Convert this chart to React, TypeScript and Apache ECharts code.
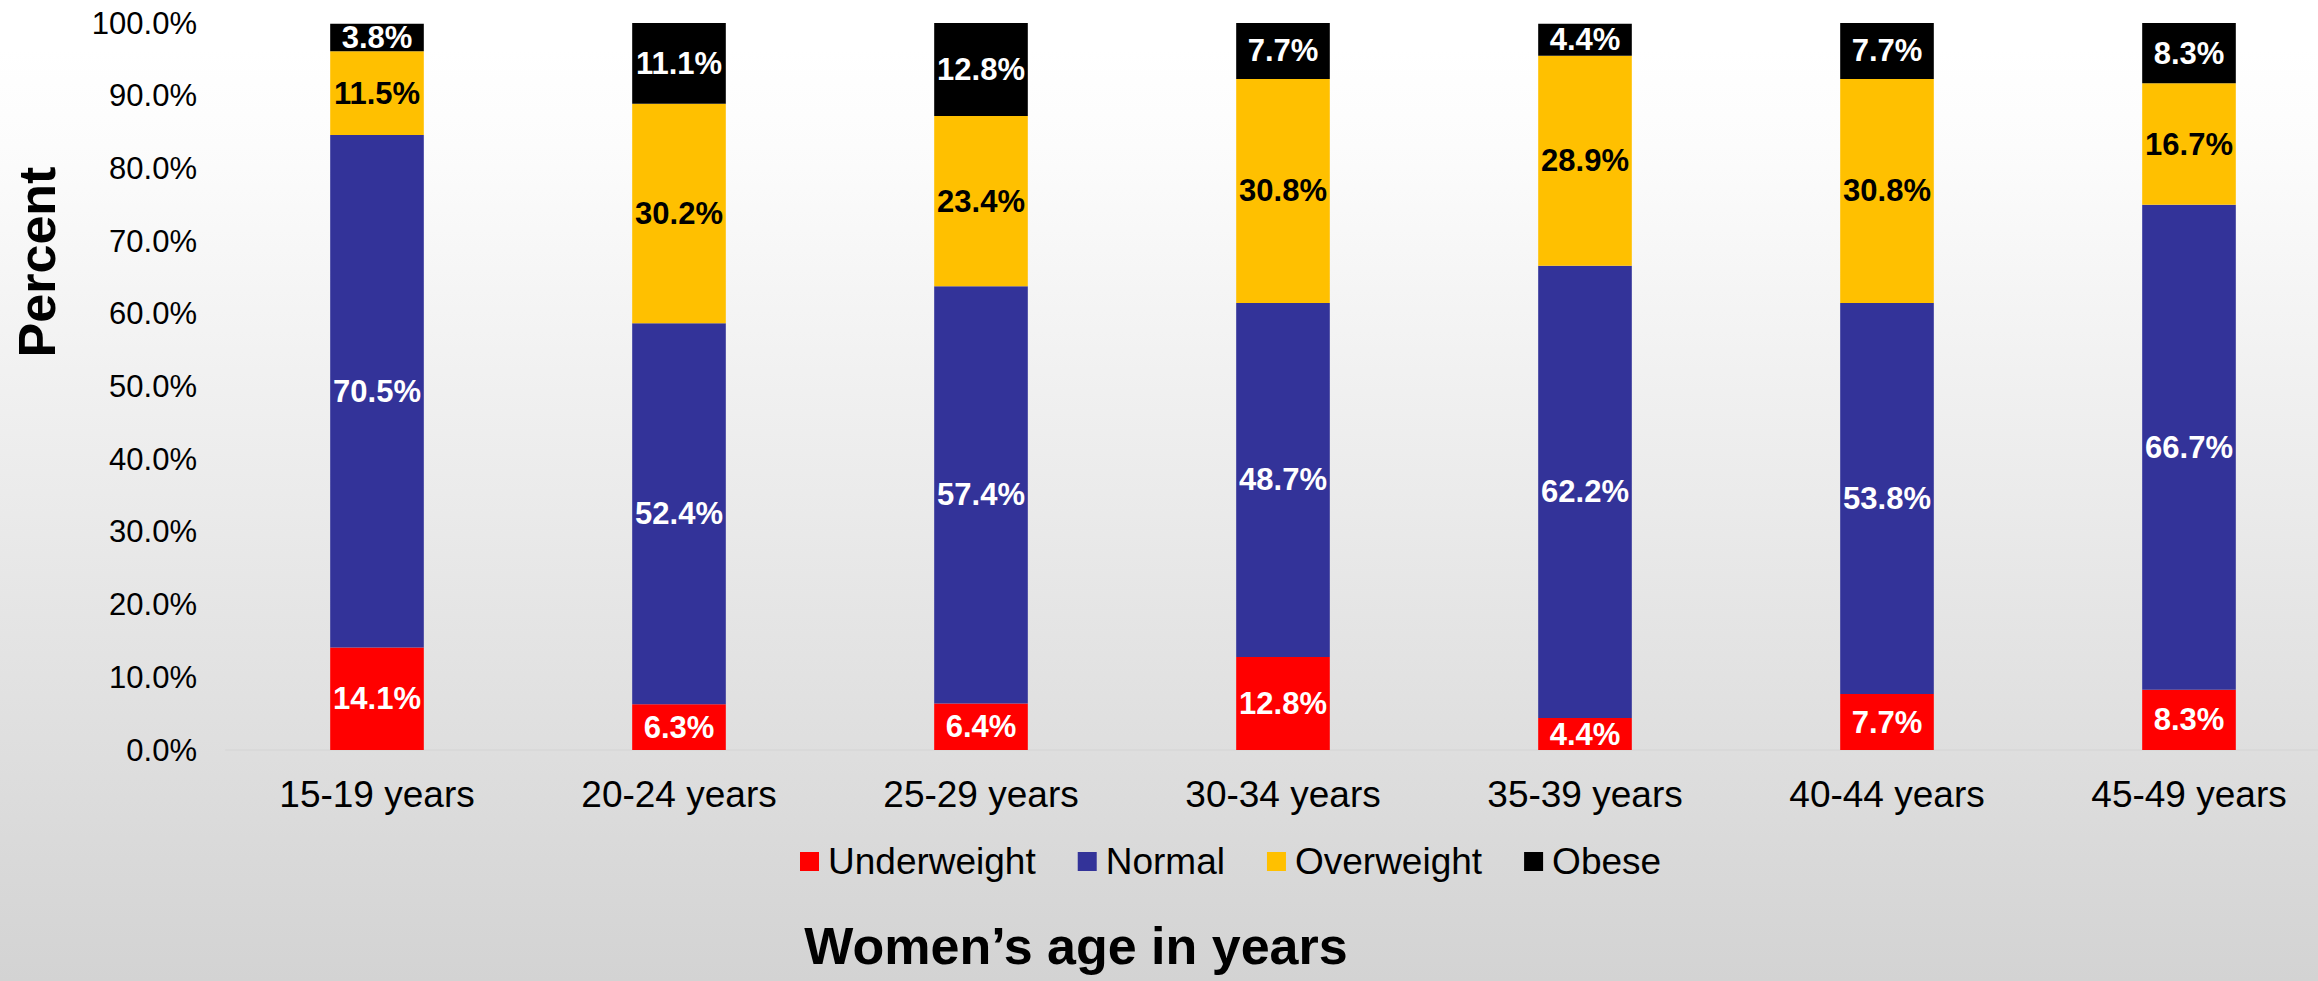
import React, { useEffect, useRef } from "react";
import * as echarts from "echarts";

const categories = ["15-19 years", "20-24 years", "25-29 years", "30-34 years", "35-39 years", "40-44 years", "45-49 years"];
const underweight = [14.1, 6.3, 6.4, 12.8, 4.4, 7.7, 8.3];
const normal = [70.5, 52.4, 57.4, 48.7, 62.2, 53.8, 66.7];
const overweight = [11.5, 30.2, 23.4, 30.8, 28.9, 30.8, 16.7];
const obese = [3.8, 11.1, 12.8, 7.7, 4.4, 7.7, 8.3];
const seriesNames = ["Underweight", "Normal", "Overweight", "Obese"];
const yTicks = [0, 10, 20, 30, 40, 50, 60, 70, 80, 90, 100];

const FONT = "'Liberation Sans', Arial, sans-serif";

export default function App() {
  const ref = useRef<HTMLDivElement>(null);
  useEffect(() => {
    if (!ref.current) return;
    const chart = echarts.init(ref.current, null, { renderer: "svg" });
    const colors = ["#FF0000", "#333399", "#FFC000", "#000000"];
    const labelColors = ["#ffffff", "#ffffff", "#000000", "#ffffff"];
    const data = [underweight, normal, overweight, obese];
    chart.setOption({
      animation: false,
      backgroundColor: "transparent",
      textStyle: { fontFamily: FONT },
      grid: { left: 226, width: 2114, top: 23, bottom: 231, containLabel: false, outerBoundsMode: "none" },
      legend: {
        data: seriesNames,
        left: 795,
        top: 838,
        itemWidth: 19,
        itemHeight: 19,
        itemGap: 42,
        icon: "rect",
        textStyle: { fontSize: 37, color: "#000", fontFamily: FONT, padding: [0, 0, 0, 4] },
      },
      xAxis: {
        type: "category",
        data: categories,
        axisLine: { show: true, lineStyle: { color: "#d9d9d9", width: 2 } },
        axisTick: { show: false },
        axisLabel: { fontSize: 37, color: "#000", margin: 26, fontFamily: FONT },
      },
      yAxis: {
        type: "value",
        min: yTicks[0],
        max: yTicks[yTicks.length - 1],
        interval: 10,
        splitLine: { show: false },
        axisLine: { show: false },
        axisTick: { show: false },
        axisLabel: {
          fontSize: 31,
          color: "#000",
          margin: 29,
          fontFamily: FONT,
          formatter: (v: number) => v.toFixed(1) + "%",
        },
      },
      graphic: [
        {
          type: "text",
          x: 37,
          y: 262,
          rotation: Math.PI / 2,
          style: {
            text: "Percent",
            fontSize: 52,
            fontWeight: "bold",
            fontFamily: FONT,
            fill: "#000",
            textAlign: "center",
            textVerticalAlign: "middle",
          },
        },
        {
          type: "text",
          x: 1076,
          y: 946,
          style: {
            text: "Women’s age in years",
            fontSize: 52,
            fontWeight: "bold",
            fontFamily: FONT,
            fill: "#000",
            textAlign: "center",
            textVerticalAlign: "middle",
          },
        },
      ],
      series: seriesNames.map((name, i) => ({
        name,
        type: "bar",
        stack: "total",
        barWidth: "31%",
        data: data[i],
        itemStyle: { color: colors[i] },
        label: {
          show: true,
          position: "inside",
          color: labelColors[i],
          fontSize: 31,
          fontWeight: "bold",
          fontFamily: FONT,
          formatter: (p: any) => Number(p.value).toFixed(1) + "%",
        },
      })),
    });
    return () => chart.dispose();
  }, []);
  return (
    <div
      style={{
        position: "fixed",
        left: 0,
        top: 0,
        width: 2318,
        height: 981,
        overflow: "hidden",
        background: "linear-gradient(to bottom, #ffffff 0%, #ffffff 5%, #fcfcfc 15%, #d3d3d3 100%)",
      }}
    >
      <div ref={ref} style={{ width: 2380, height: 981 }} />
    </div>
  );
}
